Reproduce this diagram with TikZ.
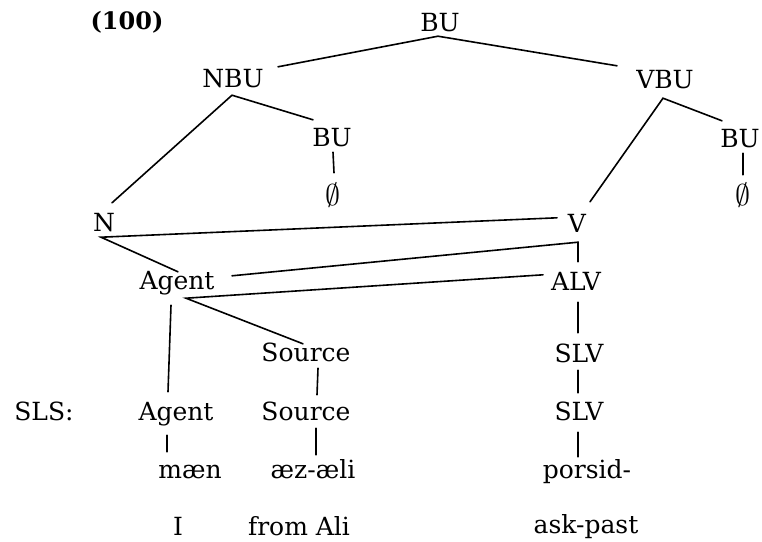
\documentclass[tikz,border=0pt]{standalone}
\usepackage{fix-cm}
\usepackage{fontspec}
\setmainfont{DejaVu Serif}
\usetikzlibrary{calc}
\begin{document}
\begin{tikzpicture}[x=1pt,y=-1pt,
  lab/.style={inner sep=0pt, anchor=base, text height=18pt, text depth=0pt, font=\fontsize{25}{30}\selectfont},
  nul/.style={inner sep=0pt, anchor=base, text height=18pt, text depth=0pt, font=\fontsize{30}{34}\selectfont},
  edge/.style={line width=1.6pt, line cap=round, line join=miter}]
\useasboundingbox (0,0) rectangle (762,541);
% nodes
\node[lab, font=\fontsize{24}{28}\selectfont\bfseries] (ex) at (127,29) {(100)};
\node[lab] (BU) at (440,31) {BU};
\node[lab] (NBU) at (233,87) {NBU};
\node[lab] (VBU) at (665,88) {VBU};
\node[lab] (BUm) at (332,146) {BU};
\node[lab] (BUr) at (740,147) {BU};
\node[nul] (phim) at (333,205) {$\emptyset$};
\node[nul] (phir) at (743,205) {$\emptyset$};
\node[lab] (N) at (104,231) {N};
\node[lab] (V) at (577,232) {V};
\node[lab] (Ag1) at (177,289) {Agent};
\node[lab] (ALV) at (576,290) {ALV};
\node[lab] (So1) at (306,361) {Source};
\node[lab] (SLV1) at (579,362) {SLV};
\node[lab] (SLS) at (44,420) {SLS:};
\node[lab] (Ag2) at (176,420) {Agent};
\node[lab] (So2) at (306,420) {Source};
\node[lab] (SLV2) at (579,420) {SLV};
\node[lab] (maen) at (190,478) {mæn};
\node[lab] (aez) at (313,478) {æz-æli};
\node[lab] (pors) at (587,478) {porsid-};
\node[lab] (I) at (178,535) {I};
\node[lab] (from) at (299,535) {from Ali};
\node[lab] (ask) at (586,533) {ask-past};
% connectors
\draw[edge] ([xshift=45pt,yshift=2pt]NBU.north) -- ([xshift=-2pt,yshift=-5pt]BU.south) -- ([xshift=-48pt,yshift=4pt]VBU.north);
\draw[edge] ([xshift=8pt,yshift=10pt]N.north) -- ([xshift=-1pt,yshift=-8pt]NBU.south) -- ([xshift=-19pt,yshift=8pt]BUm.north);
\draw[edge] ([xshift=1pt,yshift=-6pt]BUm.south) -- ([xshift=1pt,yshift=14pt]phim.north);
\draw[edge] ([xshift=13pt,yshift=12pt]V.north) -- ([xshift=-2pt,yshift=-10pt]VBU.south) -- ([xshift=-18pt,yshift=8pt]BUr.north);
\draw[edge] ([xshift=3pt,yshift=-6pt]BUr.south) -- ([xshift=0pt,yshift=12pt]phir.north);
\draw[edge] ([xshift=-20pt,yshift=-4pt]V.north) -- ([xshift=-3pt,yshift=-6pt]N.south) -- ([xshift=1pt,yshift=-1pt]Ag1.north);
\draw[edge] ([xshift=55pt,yshift=-5pt]Ag1.north) -- ([xshift=1pt,yshift=-10pt]V.south) -- ([xshift=2pt,yshift=10pt]ALV.north);
\draw[edge] ([xshift=-33pt,yshift=-3pt]ALV.north) -- ([xshift=9pt,yshift=-9pt]Ag1.south) -- ([xshift=-3pt,yshift=-1pt]So1.north);
\draw[edge] ([xshift=-6pt,yshift=-16pt]Ag1.south) -- ([xshift=-8pt,yshift=10pt]Ag2.north);
\draw[edge] ([xshift=2pt,yshift=-12pt]ALV.south) -- ([xshift=-1pt,yshift=11pt]SLV1.north);
\draw[edge] ([xshift=-1pt,yshift=-8pt]SLV1.south) -- ([xshift=-1pt,yshift=9pt]SLV2.north);
\draw[edge] ([xshift=-1pt,yshift=-12pt]SLV2.south) -- ([xshift=-9pt,yshift=3pt]pors.north);
\draw[edge] ([xshift=12pt,yshift=-7pt]So1.south) -- ([xshift=11pt,yshift=7pt]So2.north);
\draw[edge] ([xshift=-9pt,yshift=-15pt]Ag2.south) -- ([xshift=-23pt,yshift=8pt]maen.north);
\draw[edge] ([xshift=10pt,yshift=-8pt]So2.south) -- ([xshift=3pt,yshift=5pt]aez.north);
\end{tikzpicture}
\end{document}
